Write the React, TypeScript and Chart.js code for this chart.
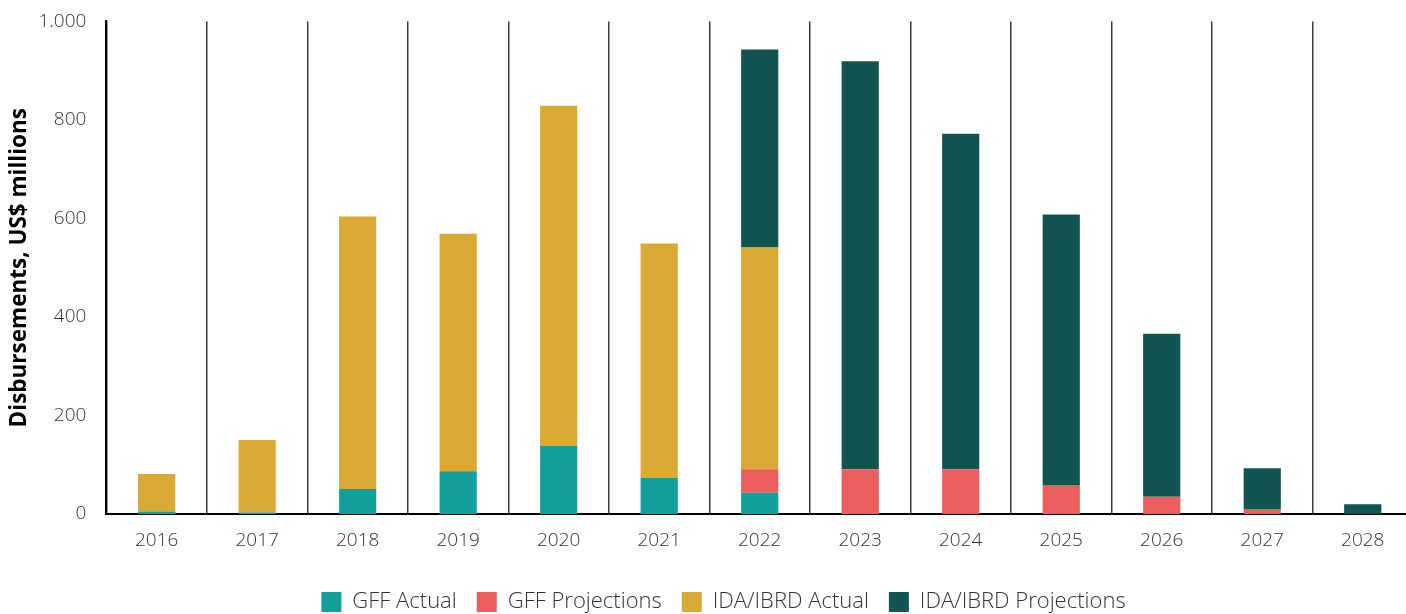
import React, { useEffect, useRef } from "react";
import { Chart, registerables } from "chart.js";

Chart.register(...registerables);

const years = ["2016", "2017", "2018", "2019", "2020", "2021", "2022", "2023", "2024", "2025", "2026", "2027", "2028"];
const gffActual = [5, 3, 51, 87, 138, 73, 43, 0, 0, 0, 0, 0, 0];
const gffProjections = [0, 0, 0, 0, 0, 0, 48, 91, 91, 59, 35, 10, 0];
const idaActual = [76, 147, 553, 482, 691, 476, 450, 0, 0, 0, 0, 0, 0];
const idaProjections = [0, 0, 0, 0, 0, 0, 402, 828, 681, 549, 331, 83, 20];
const yTicks = [0, 200, 400, 600, 800, 1000];

const FONT = "'Open Sans', 'Noto Sans', sans-serif";

function fmt(v: number): string {
  const s = Math.round(v).toString();
  return s.replace(/\B(?=(\d{3})+(?!\d))/g, ".");
}

export default function App() {
  const ref = useRef<HTMLCanvasElement | null>(null);
  useEffect(() => {
    document.body.style.margin = "0";
    if (!ref.current) return;
    const chart = new Chart(ref.current, {
      type: "bar",
      data: {
        labels: years,
        datasets: [
          { label: "GFF Actual", data: gffActual, backgroundColor: "#139E9C" },
          { label: "GFF Projections", data: gffProjections, backgroundColor: "#EB5E5E" },
          { label: "IDA/IBRD Actual", data: idaActual, backgroundColor: "#D9A934" },
          { label: "IDA/IBRD Projections", data: idaProjections, backgroundColor: "#115450" },
        ],
      },
      options: {
        animation: false,
        responsive: false,
        maintainAspectRatio: false,
        datasets: { bar: { categoryPercentage: 1, barPercentage: 0.37 } },
        layout: { padding: { top: 0, right: 1, left: 34, bottom: -9 } },
        plugins: {
          tooltip: { enabled: false },
          legend: {
            position: "bottom",
            labels: {
              boxWidth: 20,
              boxHeight: 20,
              padding: 20,
              color: "#333",
              font: { family: FONT, size: 22, weight: 300 as any },
            },
          },
        },
        scales: {
          x: {
            stacked: true,
            afterFit: (scale: any) => {
              scale.height = 57;
            },
            grid: {
              display: true,
              offset: true,
              drawTicks: false,
              color: "#3a3a3a",
              lineWidth: 1.5,
            },
            border: { display: true, color: "#000", width: 2 },
            ticks: {
              color: "#333",
              padding: 15,
              font: { family: FONT, size: 19, weight: 300 as any },
            },
          },
          y: {
            stacked: true,
            min: 0,
            max: 1000,
            afterBuildTicks: (axis: any) => {
              axis.ticks = yTicks.map((v) => ({ value: v }));
            },
            grid: { display: false, drawTicks: true, tickLength: 10, tickColor: "rgba(0,0,0,0)" },
            border: { display: true, color: "#000", width: 2 },
            ticks: {
              color: "#333",
              padding: 10,
              font: { family: FONT, size: 19, weight: 300 as any },
              callback: (v: any) => fmt(Number(v)),
            },
            title: {
              display: true,
              text: "Disbursements, US$ millions",
              color: "#000",
              padding: { top: -27.5, bottom: -5 },
              font: { family: FONT, size: 22.5, weight: "bold" },
            },
          },
        },
      },
    });
    return () => chart.destroy();
  }, []);
  return (
    <div style={{ position: "fixed", left: 0, top: 0, width: 1406, height: 614, overflow: "hidden", background: "#fff" }}>
      <canvas ref={ref} width={1414} height={614} style={{ display: "block", width: 1414, height: 614 }} />
    </div>
  );
}
